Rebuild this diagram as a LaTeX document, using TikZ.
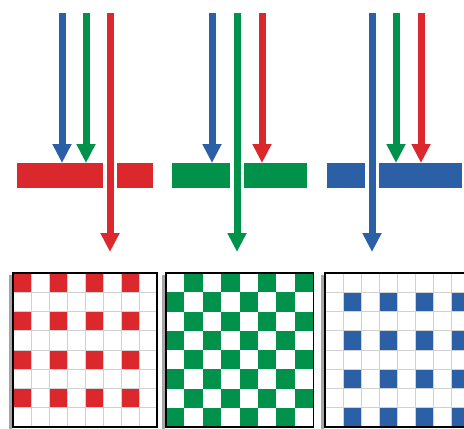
\documentclass[tikz,border=0pt]{standalone}
\usetikzlibrary{arrows.meta}
\definecolor{cred}{RGB}{218,40,45}
\definecolor{cgreen}{RGB}{0,146,75}
\definecolor{cblue}{RGB}{43,95,166}
\begin{document}
\begin{tikzpicture}[x=1pt,y=-1pt,
  beam/.style={line width=7pt,-{Triangle[width=18pt,length=19pt]}},
  gridline/.style={draw=black!18,line width=0.6pt},
  frame/.style={draw=black,line width=1.4pt},
  shadowline/.style={draw=black!35,line width=3pt}]
\useasboundingbox (0,0) rectangle (464,429);
\fill[white] (0,0) rectangle (464,429);

% ---------- panel 1 : red filter ----------
\coordinate (a1b) at (62,13);  \coordinate (a1bt) at (62,163);
\coordinate (a1g) at (86,13);  \coordinate (a1gt) at (86,163);
\coordinate (a1r) at (110,13); \coordinate (a1rt) at (110,252);
\fill[cred] (17,163) rectangle (103,188);
\fill[cred] (117,163) rectangle (153,188);
\draw[beam,cblue] (a1b) -- (a1bt);
\draw[beam,cgreen] (a1g) -- (a1gt);
\draw[beam,cred] (a1r) -- (a1rt);

% ---------- panel 2 : green filter ----------
\coordinate (a2b) at (212,13); \coordinate (a2bt) at (212,163);
\coordinate (a2g) at (237,13); \coordinate (a2gt) at (237,252);
\coordinate (a2r) at (262,13); \coordinate (a2rt) at (262,163);
\fill[cgreen] (172,163) rectangle (230,188);
\fill[cgreen] (244,163) rectangle (307,188);
\draw[beam,cblue] (a2b) -- (a2bt);
\draw[beam,cred] (a2r) -- (a2rt);
\draw[beam,cgreen] (a2g) -- (a2gt);

% ---------- panel 3 : blue filter ----------
\coordinate (a3b) at (372,13); \coordinate (a3bt) at (372,252);
\coordinate (a3g) at (396,13); \coordinate (a3gt) at (396,163);
\coordinate (a3r) at (421,13); \coordinate (a3rt) at (421,163);
\fill[cblue] (327,163) rectangle (365,188);
\fill[cblue] (379,163) rectangle (462,188);
\draw[beam,cgreen] (a3g) -- (a3gt);
\draw[beam,cred] (a3r) -- (a3rt);
\draw[beam,cblue] (a3b) -- (a3bt);

% ---------- grid 1 : red ----------
\begin{scope}[shift={(13,273)}]
  \foreach \r in {0,2,4,6} \foreach \c in {0,2,4,6}
    \fill[cred] (\c*18,\r*19.25) rectangle ++(18,19.25);
  \foreach \i in {1,...,7} {
    \draw[gridline] (\i*18,0) -- (\i*18,154);
    \draw[gridline] (0,\i*19.25) -- (144,\i*19.25);
  }
  \draw[shadowline] (-2.5,2) -- (-2.5,156);
  \draw[frame] (0,0) rectangle (144,154);
  \draw[black,line width=2.4pt] (0,0) -- (0,154);
\end{scope}

% ---------- grid 2 : green ----------
\begin{scope}[shift={(166,273)}]
  \foreach \r in {0,...,7} \foreach \c in {1,3,5,7} {
    \pgfmathtruncatemacro\cc{\c-mod(\r,2)}
    \fill[cgreen] (\cc*18.4,\r*19.25) rectangle ++(18.4,19.25);
  }
  \draw[shadowline] (-2.5,2) -- (-2.5,156);
  \draw[frame] (0,0) rectangle (147.2,154);
  \draw[black,line width=2.4pt] (0,0) -- (0,154);
\end{scope}

% ---------- grid 3 : blue ----------
\begin{scope}
  \clip (300,260) rectangle (464,429);
  \begin{scope}[shift={(325,273)}]
    \foreach \r in {1,3,5,7} \foreach \c in {1,3,5,7}
      \fill[cblue] (\c*18,\r*19.25) rectangle ++(18,19.25);
    \foreach \i in {1,...,7} {
      \draw[gridline] (\i*18,0) -- (\i*18,154);
      \draw[gridline] (0,\i*19.25) -- (144,\i*19.25);
    }
    \draw[shadowline] (-2.5,2) -- (-2.5,156);
    \draw[frame] (0,0) rectangle (144,154);
    \draw[black,line width=2.4pt] (0,0) -- (0,154);
  \end{scope}
\end{scope}
\end{tikzpicture}
\end{document}
